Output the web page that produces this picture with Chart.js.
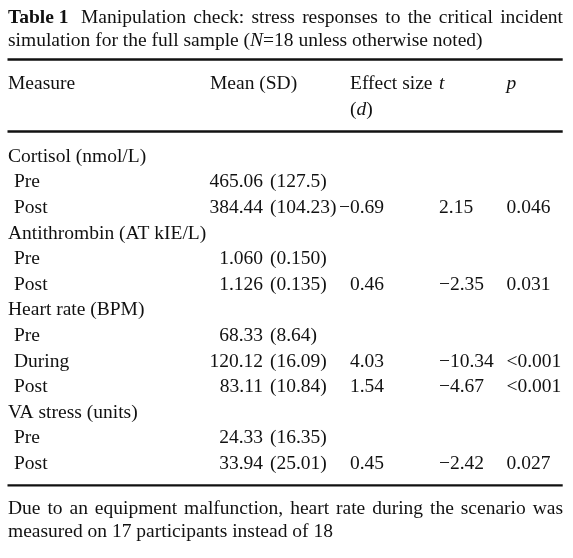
<!DOCTYPE html>
<html>
<head>
<meta charset="utf-8">
<script src="https://cdn.jsdelivr.net/npm/chart.js@4.4.0/dist/chart.umd.min.js"></script>
<style>
html,body{margin:0;padding:0;background:#fff;}
#wrap{width:573px;height:558px;position:relative;}
</style>
</head>
<body>
<div id="wrap"><canvas id="c"></canvas></div>
<script>
// ---- data ----
const groups = ['Cortisol (nmol/L)', 'Antithrombin (AT kIE/L)', 'Heart rate (BPM)', 'VA stress (units)'];
const rowGroup = [0, 0, 1, 1, 2, 2, 2, 3, 3];
const phases = ['Pre', 'Post', 'Pre', 'Post', 'Pre', 'During', 'Post', 'Pre', 'Post'];
const means = ['465.06', '384.44', '1.060', '1.126', '68.33', '120.12', '83.11', '24.33', '33.94'];
const sds = ['127.5', '104.23', '0.150', '0.135', '8.64', '16.09', '10.84', '16.35', '25.01'];
const effects = [null, '\u22120.69', null, '0.46', null, '4.03', '1.54', null, '0.45'];
const tValues = [null, '2.15', null, '\u22122.35', null, '\u221210.34', '\u22124.67', null, '\u22122.42'];
const pValues = [null, '0.046', null, '0.031', null, '<0.001', '<0.001', null, '0.027'];
const columnHeaders = ['Measure', 'Mean (SD)', 'Effect size', 't', 'p'];
const titleLabel = 'Table 1';
const titleText1 = 'Manipulation check: stress responses to the critical incident';
const titleText2 = ['simulation for the full sample (', 'N', '=18 unless otherwise noted)'];
const footnote1 = 'Due to an equipment malfunction, heart rate during the scenario was';
const footnote2 = 'measured on 17 participants instead of 18';

// ---- layout (not data) ----
const W = 573, H = 558;
const FS = 19.5;
const FONT = '"Liberation Serif", "Times New Roman", serif';
const INK = '#111';
const COL = { measure: 8, phase: 14, meanR: 263, sd: 270, effR: 384, eff: 350, t: 439, p: 506.5, mean: 210 };
const RULE_L = 7.5, RULE_R = 562.7;
const BODY_Y0 = 161.8, ROW_H = 25.6;

const cells = [];
const N = (t) => ({ t, s: 'normal' });
const I = (t) => ({ t, s: 'italic' });
const B = (t) => ({ t, s: 'bold' });

// title
cells.push({ x: 8, y: 22.7, runs: [B(titleLabel)] });
cells.push({ x: 81, y: 22.7, runs: [N(titleText1)], justifyTo: 563 });
cells.push({ x: 8, y: 45.7, runs: [N(titleText2[0]), I(titleText2[1]), N(titleText2[2])] });
// headers
cells.push({ x: COL.measure, y: 89.3, runs: [N(columnHeaders[0])] });
cells.push({ x: COL.mean, y: 89.3, runs: [N(columnHeaders[1])] });
cells.push({ x: COL.eff, y: 89.3, runs: [N(columnHeaders[2])] });
cells.push({ x: COL.eff, y: 114.6, runs: [N('('), I('d'), N(')')] });
cells.push({ x: COL.t, y: 89.3, runs: [I(columnHeaders[3])] });
cells.push({ x: COL.p, y: 89.3, runs: [I(columnHeaders[4])] });
// body
let r = 0;
for (let k = 0; k < phases.length; k++) {
  if (k === 0 || rowGroup[k] !== rowGroup[k - 1]) {
    cells.push({ x: COL.measure, y: BODY_Y0 + r * ROW_H, runs: [N(groups[rowGroup[k]])] });
    r++;
  }
  const y = BODY_Y0 + r * ROW_H;
  cells.push({ x: COL.phase, y, runs: [N(phases[k])] });
  cells.push({ x: COL.meanR, y, runs: [N(means[k])], align: 'right' });
  cells.push({ x: COL.sd, y, runs: [N('(' + sds[k] + ')')] });
  if (effects[k]) cells.push({ x: COL.effR, y, runs: [N(effects[k])], align: 'right' });
  if (tValues[k]) cells.push({ x: COL.t, y, runs: [N(tValues[k])] });
  if (pValues[k]) cells.push({ x: COL.p, y, runs: [N(pValues[k])] });
  r++;
}
// footnote
cells.push({ x: 8, y: 514, runs: [N(footnote1)], justifyTo: 563 });
cells.push({ x: 8, y: 536.7, runs: [N(footnote2)] });

const rules = [59.5, 131.5, 485.3];

function fontFor(s) {
  return (s === 'bold' ? 'bold ' : s === 'italic' ? 'italic ' : '') + FS + 'px ' + FONT;
}

const tablePlugin = {
  id: 'tableText',
  afterDatasetsDraw(chart) {
    const ctx = chart.ctx;
    const xs = chart.scales.x;
    ctx.save();
    ctx.fillStyle = INK;
    ctx.textBaseline = 'alphabetic';
    ctx.textAlign = 'left';
    chart.data.datasets.forEach((ds, di) => {
      if (!ds.isText) return;
      const meta = chart.getDatasetMeta(di);
      meta.data.forEach((el, i) => {
        const cell = ds.data[i];
        let x = el.x;
        const y = el.y;
        if (cell.justifyTo) {
          const right = xs.getPixelForValue(cell.justifyTo);
          ctx.font = fontFor(cell.runs[0].s);
          const words = cell.runs[0].t.split(' ');
          const ws = words.map(w => ctx.measureText(w).width);
          const total = ws.reduce((a, b) => a + b, 0);
          const gap = (right - x - total) / (words.length - 1);
          words.forEach((w, j) => { ctx.fillText(w, x, y); x += ws[j] + gap; });
          return;
        }
        let total = 0;
        cell.runs.forEach(run => { ctx.font = fontFor(run.s); total += ctx.measureText(run.t).width; });
        if (cell.align === 'right') x -= total;
        cell.runs.forEach(run => {
          ctx.font = fontFor(run.s);
          ctx.fillText(run.t, x, y);
          x += ctx.measureText(run.t).width;
        });
      });
    });
    ctx.restore();
  }
};

const datasets = rules.map(y => ({
  type: 'line',
  data: [{ x: RULE_L, y }, { x: RULE_R, y }],
  borderColor: INK,
  borderWidth: 2.3,
  pointRadius: 0,
  fill: false,
  tension: 0
}));
datasets.push({
  type: 'scatter',
  isText: true,
  data: cells,
  pointRadius: 0,
  pointHoverRadius: 0,
  backgroundColor: 'rgba(0,0,0,0)'
});

new Chart(document.getElementById('c'), {
  type: 'scatter',
  data: { datasets },
  options: {
    responsive: true,
    maintainAspectRatio: false,
    animation: false,
    events: [],
    layout: { padding: 0 },
    plugins: { legend: { display: false }, tooltip: { enabled: false } },
    scales: {
      x: { type: 'linear', min: 0, max: W, display: false },
      y: { type: 'linear', min: 0, max: H, reverse: true, display: false }
    }
  },
  plugins: [tablePlugin]
});
</script>
</body>
</html>
